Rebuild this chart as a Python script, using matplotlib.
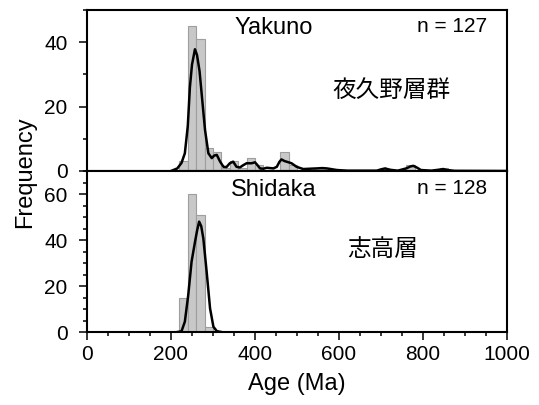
import numpy as np
import matplotlib
matplotlib.use('Agg')
from matplotlib import pyplot as plt
from matplotlib.ticker import MultipleLocator

plt.rcParams['font.family'] = ['Liberation Sans', 'Noto Sans CJK JP', 'DejaVu Sans']

# histogram bins (left edge, Ma) and counts, 20 Ma wide
yakuno_bins = [220, 240, 260, 280, 300, 320, 340, 360, 380, 400, 460, 480, 540, 560, 700, 760, 840]
yakuno_counts = [3, 45, 41, 7, 6, 1, 3, 1, 4, 2, 6, 2, 1, 1, 1, 2, 1]
shidaka_bins = [220, 240, 260, 280]
shidaka_counts = [15, 60, 51, 2]

# density curves (age, frequency)
yakuno_kde_age = [200, 215, 225, 233, 240, 245, 250, 257, 262, 268, 273, 281, 289, 297, 303, 309,
                  317, 325, 332, 340, 348, 356, 364, 372, 380, 392, 400, 406, 412, 420, 428, 436,
                  444, 452, 458, 463, 470, 475, 487, 499, 515, 530, 547, 560, 571, 595, 620, 690,
                  700, 710, 720, 740, 760, 770, 777, 785, 795, 820, 838, 848, 858, 875, 1000]
yakuno_kde = [0, 0.8, 2.5, 5.5, 14, 26, 33, 37.8, 36, 31, 24, 12.8, 5.5, 4, 4.8, 5,
              2.9, 1.3, 1.2, 2.4, 2.9, 1.3, 1.1, 1.8, 2.4, 2.4, 2.7, 1.8, 0.8, 0.7, 1, 0.9,
              0.8, 1.3, 2.8, 3.6, 3.1, 2.9, 2.4, 1.3, 0.6, 0.7, 0.8, 0.9, 0.8, 0.3, 0.1, 0.1,
              0.5, 0.8, 0.4, 0.1, 0.8, 1.4, 1.6, 1.1, 0.3, 0.1, 0.4, 0.6, 0.3, 0.05, 0]
shidaka_kde_age = [215, 225, 233, 241, 249, 257, 262, 267, 272, 277, 285, 293, 301, 309, 320]
shidaka_kde = [0, 0.3, 4.5, 16, 30.6, 39, 44, 48, 46, 40.7, 26, 10.3, 2.3, 0.4, 0]

fig = plt.figure(figsize=(5.39, 4.05), dpi=100)
ax1 = fig.add_axes([0.1614, 0.5778, 0.7792, 0.3975])
ax2 = fig.add_axes([0.1614, 0.1802, 0.7792, 0.3975])

panels = [
    (ax1, yakuno_bins, yakuno_counts, yakuno_kde_age, yakuno_kde, 50, 20, 10,
     'Yakuno', 'n = 127', '夜久野層群', 17, (391, 91)),
    (ax2, shidaka_bins, shidaka_counts, shidaka_kde_age, shidaka_kde, 70, 20, 5,
     'Shidaka', 'n = 128', '志高層', 179, (383, 250)),
]

for ax, bins, counts, kx, ky, ytop, ymaj, ymin, name, ntxt, jp, ty, jpos in panels:
    ax.bar(bins, counts, width=20, align='edge', color='#c8c8c8', edgecolor='#9e9e9e', linewidth=0.8)
    ax.plot(kx, ky, color='black', lw=1.8)
    ax.set_xlim(0, 1000)
    ax.set_ylim(0, ytop)
    ax.xaxis.set_major_locator(MultipleLocator(200))
    ax.xaxis.set_minor_locator(MultipleLocator(50))
    ax.yaxis.set_major_locator(MultipleLocator(ymaj))
    ax.yaxis.set_minor_locator(MultipleLocator(ymin))
    ax.tick_params(which='major', length=6, width=1.1, labelsize=15, direction='out')
    ax.tick_params(which='minor', length=3, width=1.1, direction='out')
    ax.tick_params(axis='y', which='major', pad=8)
    for s in ax.spines.values():
        s.set_linewidth(1.5)
    fig.text(274 / 539, 1 - ty / 405, name, fontsize=17, ha='center', va='top')
    fig.text(487 / 539, 1 - ty / 405, ntxt, fontsize=15, ha='right', va='top')
    fig.text(jpos[0] / 539, 1 - jpos[1] / 405, jp, fontsize=17, ha='center', va='center')

ax1.tick_params(labelbottom=False)
ax2.set_xlabel('Age (Ma)', fontsize=17, labelpad=6)
fig.text(25 / 539, 1 - 172 / 405, 'Frequency', fontsize=17, rotation=90, ha='center', va='center')

fig.savefig('out.png', dpi=100)
